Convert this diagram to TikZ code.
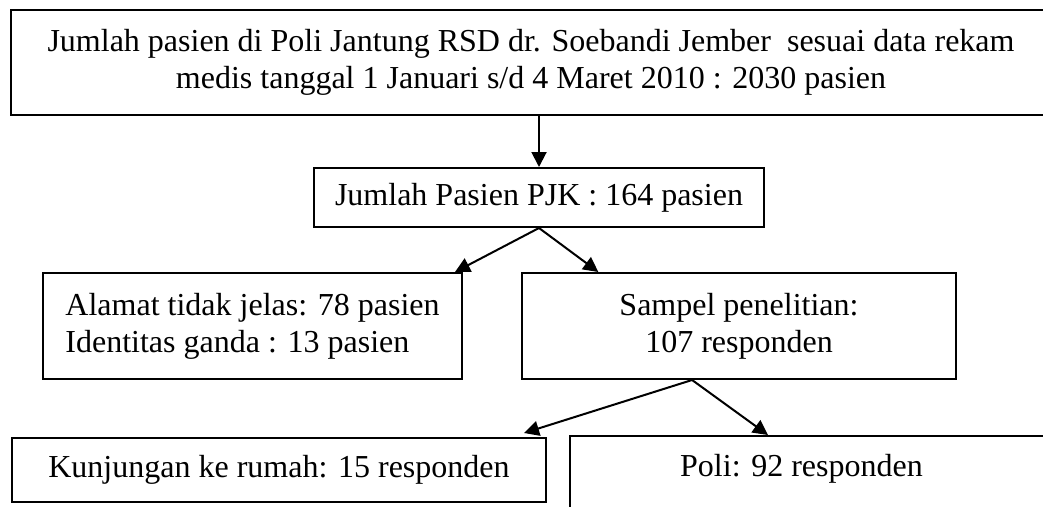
\documentclass[tikz,border=0pt]{standalone}
\usepackage{fontspec}
\setmainfont{Liberation Serif}
\usetikzlibrary{arrows.meta}

\tikzset{
    box/.style={draw, line width=0.75pt, inner sep=4pt, font=\fontsize{12}{13.9}\selectfont},
    arrow/.style={line width=0.75pt, -{Triangle[length=5.6pt,width=5.6pt]}}
}

\begin{document}
\begin{tikzpicture}[x=0.375pt, y=-0.375pt]
    \useasboundingbox (0,0) rectangle (1043,506);
    \clip (0,0) rectangle (1043,506);

    % Total patients
    \node[box, align=center, minimum width=390pt, minimum height=39.375pt] (total) at (531,62.5) {Jumlah pasien di Poli Jantung RSD dr. Soebandi Jember~ sesuai data rekam\\medis tanggal 1 Januari s/d 4 Maret 2010 : 2030 pasien};

    % PJK patients
    \node[box, minimum width=168.75pt, minimum height=22.125pt] (pjk) at (539,197.5) {Jumlah Pasien PJK : 164 pasien};

    % Excluded and sample
    \node[box, align=left, minimum width=157.125pt, minimum height=39.75pt] (alamat) at (252.5,326) {Alamat tidak jelas: 78 pasien\\Identitas ganda : 13 pasien};
    \node[box, align=center, minimum width=162.75pt, minimum height=39.75pt] (sampel) at (739,326) {Sampel penelitian:\\107 responden};

    % Home visit and clinic
    \node[box, minimum width=200.25pt, minimum height=24pt] (kunjungan) at (279,470) {Kunjungan ke rumah: 15 responden};
    \node[box, anchor=north west, minimum width=184.125pt, text height=11pt, text depth=30pt] (poli) at (569,435) {Poli: 92 responden\hspace*{10.5pt}};

    \draw[arrow] (pjk.north |- total.south) -- (pjk.north);
    \draw[arrow] (pjk.south) -- ([xshift=-3pt]alamat.north east);
    \draw[arrow] (pjk.south) -- ([xshift=29pt]sampel.north west);
    \draw[arrow] ([xshift=-17.6pt]sampel.south) -- ([xshift=-8.6pt, yshift=1.5pt]kunjungan.north east);
    \draw[arrow] ([xshift=-17.6pt]sampel.south) -- ([xshift=74.6pt]poli.north west);

\end{tikzpicture}
\end{document}
